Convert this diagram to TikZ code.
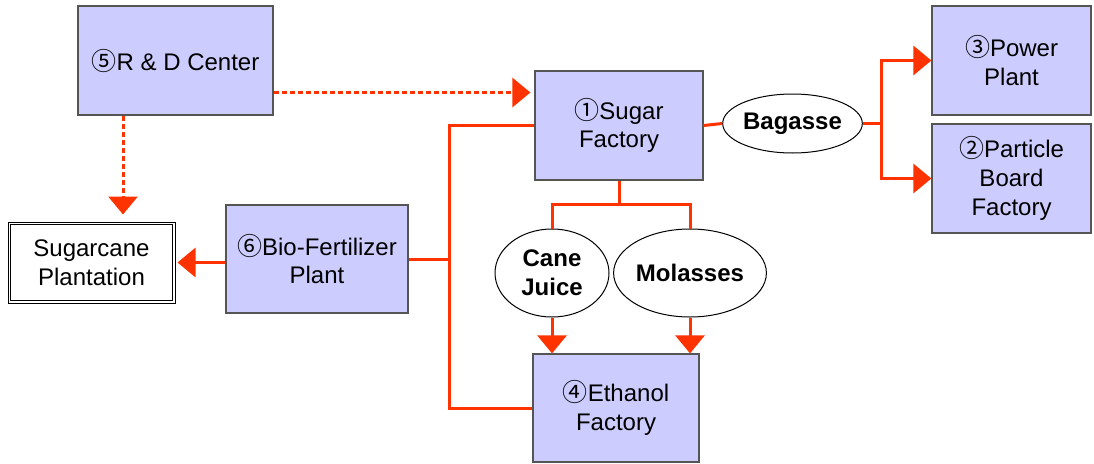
\documentclass[tikz,border=0pt]{standalone}
\usepackage{fontspec}
\setmainfont{Liberation Sans}
\newfontfamily\cjk{Noto Sans CJK JP}
\usetikzlibrary{arrows.meta,shapes.geometric,calc}
\definecolor{boxfill}{HTML}{CCCCFF}
\definecolor{boxline}{HTML}{555555}
\definecolor{flow}{HTML}{FF3300}
\newcommand{\cn}[1]{{\cjk\fontsize{25}{28.8}\selectfont #1}}
\begin{document}
\begin{tikzpicture}[x=1pt,y=-1pt,
  font=\fontsize{24}{28.8}\selectfont,
  unit/.style={draw=boxline,line width=1.2pt,fill=boxfill,align=center,inner sep=2pt},
  prod/.style={ellipse,draw=black,line width=1pt,fill=white,align=center,inner sep=0pt,font=\fontsize{24}{28.8}\selectfont\bfseries},
  flowline/.style={draw=flow,line width=3pt,line join=miter},
  flowarrow/.style={flowline,-{Triangle[width=29pt,length=18pt]}},
  dotarrow/.style={flowarrow,dash pattern=on 5pt off 3pt}]
\useasboundingbox (0,0) rectangle (1094,463);
% nodes
\node[unit,minimum width=195pt,minimum height=109pt] (rd) at (175.5,60.5) {\cn{⑤}R \& D Center};
\node[unit,minimum width=168pt,minimum height=109pt] (sugar) at (619,125.5) {\cn{①}Sugar\\Factory};
\node[unit,minimum width=159pt,minimum height=109pt] (power) at (1011.5,60.5) {\cn{③}Power\\Plant};
\node[unit,minimum width=159pt,minimum height=109pt] (particle) at (1011.5,178.5) {\cn{②}Particle\\Board\\Factory};
\node[unit,minimum width=182pt,minimum height=108pt] (bio) at (317,259) {\cn{⑥}Bio-Fertilizer\\Plant};
\node[unit,minimum width=166pt,minimum height=108pt] (ethanol) at (616,408) {\cn{④}Ethanol\\Factory};
\node[draw=black,line width=1pt,fill=white,align=center,
      minimum width=167pt,minimum height=81pt] (cane) at (91.5,262.5) {Sugarcane\\Plantation};
\draw[black,line width=1pt] ([shift={(3pt,-3pt)}]cane.north west) rectangle ([shift={(-3pt,3pt)}]cane.south east);
\node[prod,minimum width=129pt,minimum height=59pt] (bagasse) at (792.5,123.5) {Bagasse};
\node[prod,minimum width=114pt,minimum height=88pt] (juice) at (552,273) {Cane\\Juice};
\node[prod,minimum width=138pt,minimum height=88pt] (molasses) at (690,273) {Molasses};
% helper coordinates
\coordinate (busT) at (449,125.5);
\coordinate (bj) at (881,123.5);
\coordinate (sj) at (619,204);
% connectors
\draw[dotarrow,shorten >=4pt] ([yshift=-32pt]rd.east) -- ([yshift=-32pt]rd.east -| sugar.west);
\draw[dotarrow,shorten >=7pt] ([xshift=31.5pt]cane.north |- rd.south) -- ([xshift=31.5pt]cane.north);
\draw[flowarrow,shorten >=2pt] (bio.west |- cane.east) -- (cane.east);
\draw[flowline] (sugar.west) -- (busT) |- (ethanol.west);
\draw[flowline] (bio.east) -- (bio.east -| busT);
\draw[flowline] (sugar.east) -- (bagasse.west);
\draw[flowline] (bagasse.east) -- (bj);
\draw[flowarrow] (bj) |- (power.west);
\draw[flowarrow] (bj) |- (particle.west);
\draw[flowline] (sugar.south) -- (sj);
\draw[flowline] (juice.north) |- (sj) -| (molasses.north);
\draw[flowarrow] (juice.south) -- (juice.south |- ethanol.north);
\draw[flowarrow] (molasses.south) -- (molasses.south |- ethanol.north);
\end{tikzpicture}
\end{document}
